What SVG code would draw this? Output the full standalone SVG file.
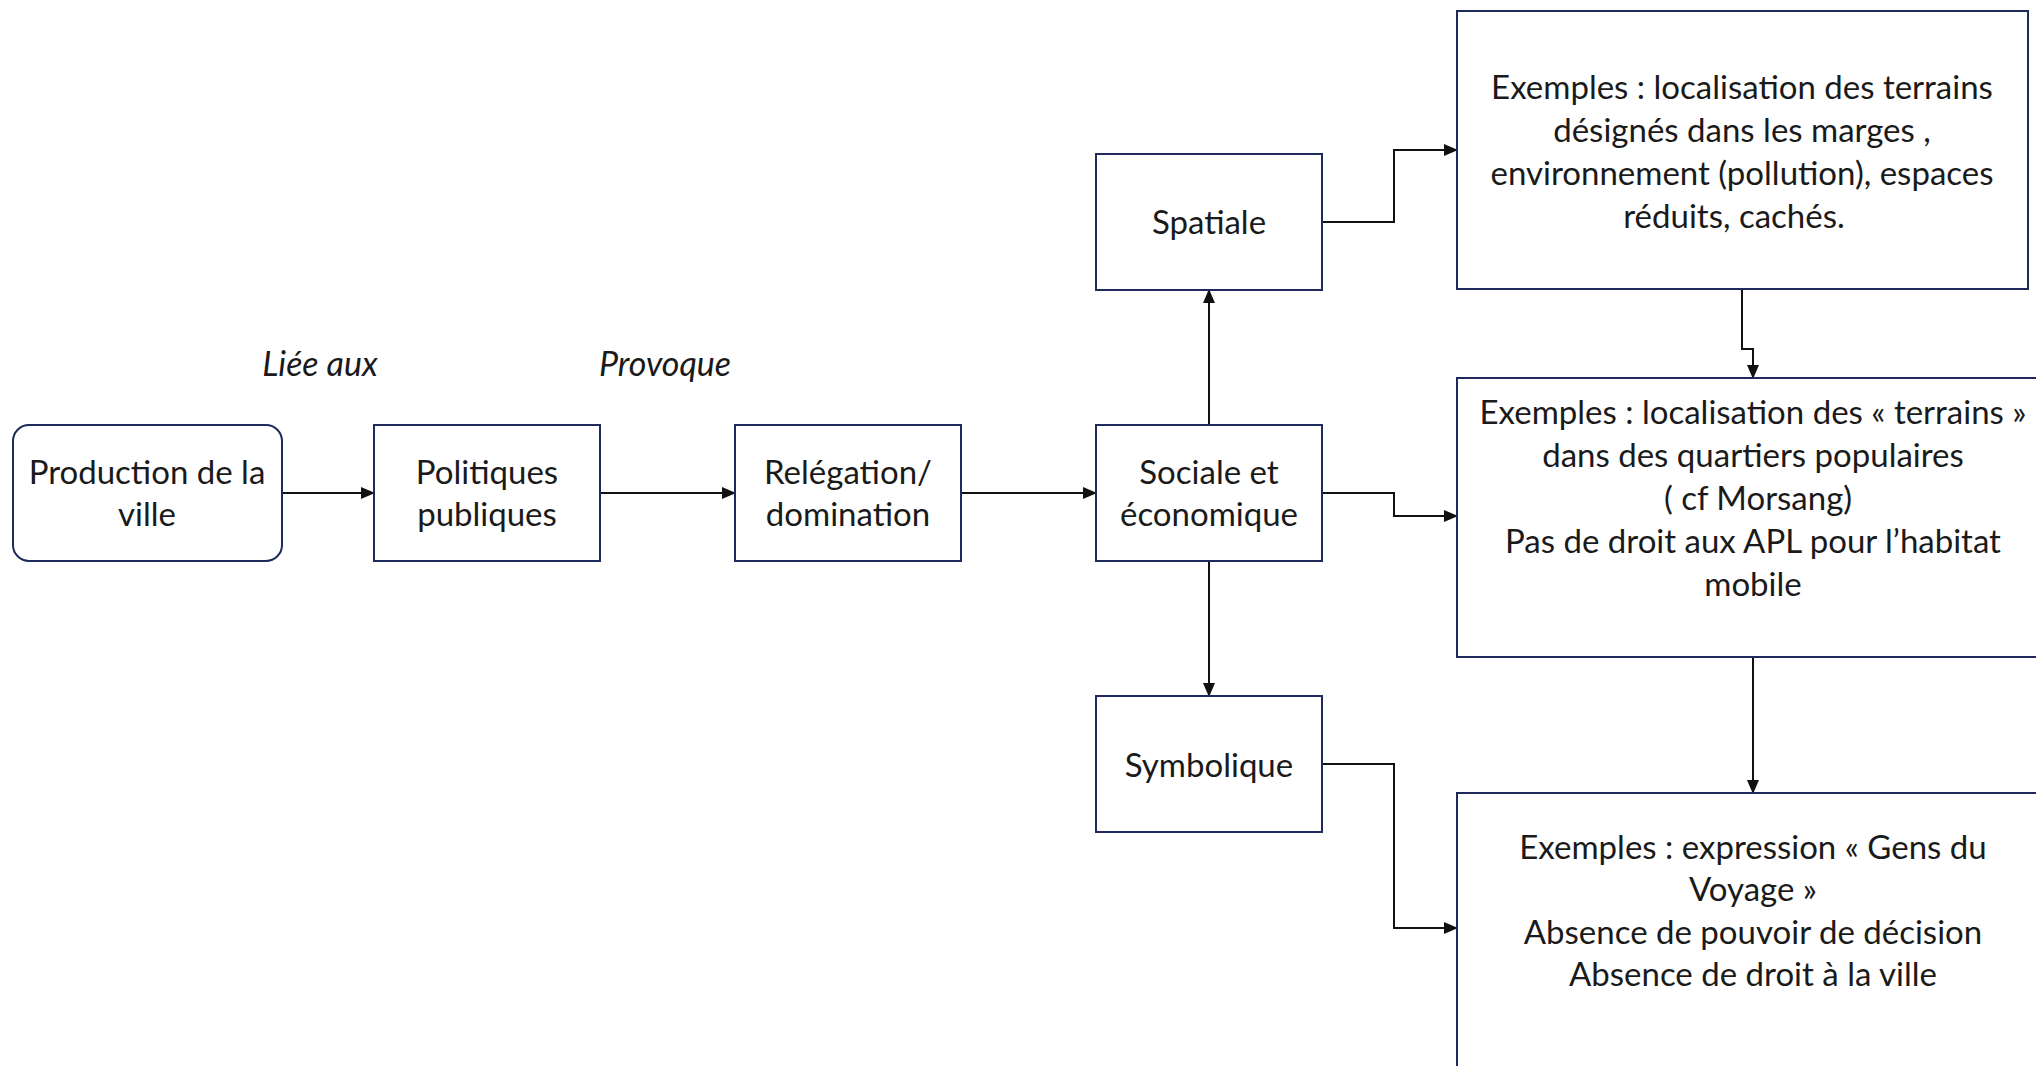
<svg xmlns="http://www.w3.org/2000/svg" width="2036" height="1066" viewBox="0 0 2036 1066">
<style>
.box{fill:#ffffff;stroke:#1f2a5c;stroke-width:2}
.t{font-family:Lato,"Liberation Sans",sans-serif;font-size:33px;fill:#1a1a1a;text-anchor:middle}
.i{font-family:Lato,"Liberation Sans",sans-serif;font-size:34px;font-style:italic;fill:#1a1a1a;text-anchor:middle}
.c{fill:none;stroke:#111111;stroke-width:2}
</style>
<defs>
<marker id="ah" markerUnits="userSpaceOnUse" markerWidth="14" markerHeight="12" refX="13" refY="6" orient="auto">
<path d="M0,0 L14,6 L0,12 Z" fill="#111111"/>
</marker>
</defs>
<rect width="2036" height="1066" fill="#ffffff"/>
<g id="labels">
<text class="i" x="320" y="376">Liée aux</text>
<text class="i" x="665" y="376">Provoque</text>
</g>
<g id="connectors">
<path class="c" d="M282,493 H374" marker-end="url(#ah)"/>
<path class="c" d="M600,493 H735" marker-end="url(#ah)"/>
<path class="c" d="M961,493 H1096" marker-end="url(#ah)"/>
<path class="c" d="M1209,425 V290" marker-end="url(#ah)"/>
<path class="c" d="M1209,561 V696" marker-end="url(#ah)"/>
<path class="c" d="M1322,222 H1394 V150 H1457" marker-end="url(#ah)"/>
<path class="c" d="M1322,493 H1394 V516 H1457" marker-end="url(#ah)"/>
<path class="c" d="M1322,764 H1394 V928 H1457" marker-end="url(#ah)"/>
<path class="c" d="M1742,290 V349 H1753 V378" marker-end="url(#ah)"/>
<path class="c" d="M1753,657 V793" marker-end="url(#ah)"/>
</g>
<g id="production">
<rect class="box" x="13" y="425" width="269" height="136" rx="16"/>
<text class="t" x="147" y="484">Production de la</text>
<text class="t" x="147" y="526">ville</text>
</g>
<g id="politiques">
<rect class="box" x="374" y="425" width="226" height="136"/>
<text class="t" x="487" y="484">Politiques</text>
<text class="t" x="487" y="526">publiques</text>
</g>
<g id="relegation">
<rect class="box" x="735" y="425" width="226" height="136"/>
<text class="t" x="848" y="484">Relégation/</text>
<text class="t" x="848" y="526">domination</text>
</g>
<g id="sociale">
<rect class="box" x="1096" y="425" width="226" height="136"/>
<text class="t" x="1209" y="484">Sociale et</text>
<text class="t" x="1209" y="526">économique</text>
</g>
<g id="spatiale">
<rect class="box" x="1096" y="154" width="226" height="136"/>
<text class="t" x="1209" y="234">Spatiale</text>
</g>
<g id="symbolique">
<rect class="box" x="1096" y="696" width="226" height="136"/>
<text class="t" x="1209" y="777">Symbolique</text>
</g>
<g id="exemples-spatiale">
<rect class="box" x="1457" y="11" width="571" height="278"/>
<text class="t" x="1742" y="99">Exemples : localisation des terrains</text>
<text class="t" x="1742" y="142">désignés dans les marges ,</text>
<text class="t" x="1742" y="185">environnement (pollution), espaces</text>
<text class="t" x="1734" y="228">réduits, cachés.</text>
</g>
<g id="exemples-sociale">
<rect class="box" x="1457" y="378" width="592" height="279"/>
<text class="t" x="1753" y="424">Exemples : localisation des « terrains »</text>
<text class="t" x="1753" y="467">dans des quartiers populaires</text>
<text class="t" x="1758" y="510">( cf Morsang)</text>
<text class="t" x="1753" y="553">Pas de droit aux APL pour l’habitat</text>
<text class="t" x="1753" y="596">mobile</text>
</g>
<g id="exemples-symbolique">
<rect class="box" x="1457" y="793" width="592" height="300"/>
<text class="t" x="1753" y="859">Exemples : expression « Gens du</text>
<text class="t" x="1753" y="901">Voyage »</text>
<text class="t" x="1753" y="944">Absence de pouvoir de décision</text>
<text class="t" x="1753" y="986">Absence de droit à la ville</text>
</g>
</svg>
